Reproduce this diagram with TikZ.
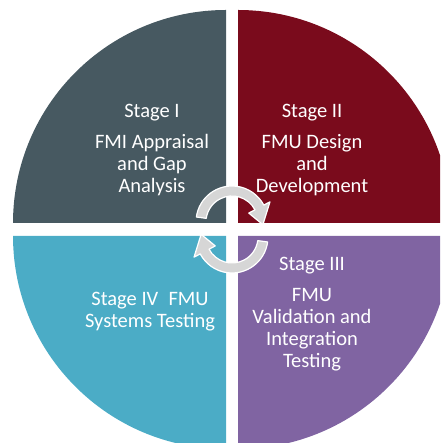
\documentclass[tikz,border=0pt]{standalone}
\usepackage{fontspec}
\setmainfont{Carlito}
\usetikzlibrary{positioning}
\definecolor{stageone}{HTML}{475961}
\definecolor{stagetwo}{HTML}{7A0B1C}
\definecolor{stagethree}{HTML}{8064A2}
\definecolor{stagefour}{HTML}{4BACC6}
\definecolor{cyclegray}{HTML}{D6D6D6}

\begin{document}
\begin{tikzpicture}[x=1pt,y=1pt,
        stage/.style={text=white,align=center,font=\fontsize{20.5}{22}\selectfont},
        cyc/.style={fill=cyclegray,draw=white,line width=1.2pt,line join=round}]

    \useasboundingbox (0,0) rectangle (440,443);
    \clip (0,0) rectangle (440,443);

    % quarters of the circle
    \fill[stageone]   (226,220) -- ++(-213,0) arc[start angle=180,end angle=90,radius=213] -- cycle;
    \fill[stagetwo]   (238,220) -- ++(0,213)  arc[start angle=90,end angle=0,radius=213] -- cycle;
    \fill[stagethree] (238,207) -- ++(213,0)  arc[start angle=0,end angle=-90,radius=213] -- cycle;
    \fill[stagefour]  (226,207) -- ++(0,-213) arc[start angle=270,end angle=180,radius=213] -- cycle;

    % cycle arrows
    \path[cyc,shift={(232,221)}] (172:36) arc[start angle=172,end angle=28,radius=36]
        -- (28:43) -- (-5:31) -- (28:19) -- (28:26) arc[start angle=28,end angle=172,radius=26] -- cycle;
    \path[cyc,shift={(232,206)},rotate=180] (172:36) arc[start angle=172,end angle=28,radius=36]
        -- (28:43) -- (-5:31) -- (28:19) -- (28:26) arc[start angle=28,end angle=172,radius=26] -- cycle;

    % texts
    \node[stage] (s1) at (152,293) {Stage I\\[9pt]FMI Appraisal\\and Gap\\Analysis};
    \node[stage] (s2) at (312,293) {Stage II\\[9pt]FMU Design\\and\\Development};
    \node[stage] (s3) at (312,129) {Stage III\\[9pt]FMU\\Validation and\\Integration\\Testing};
    \node[stage] (s4) at (150,131) {Stage IV\enspace FMU\\Systems Testing};

\end{tikzpicture}
\end{document}
